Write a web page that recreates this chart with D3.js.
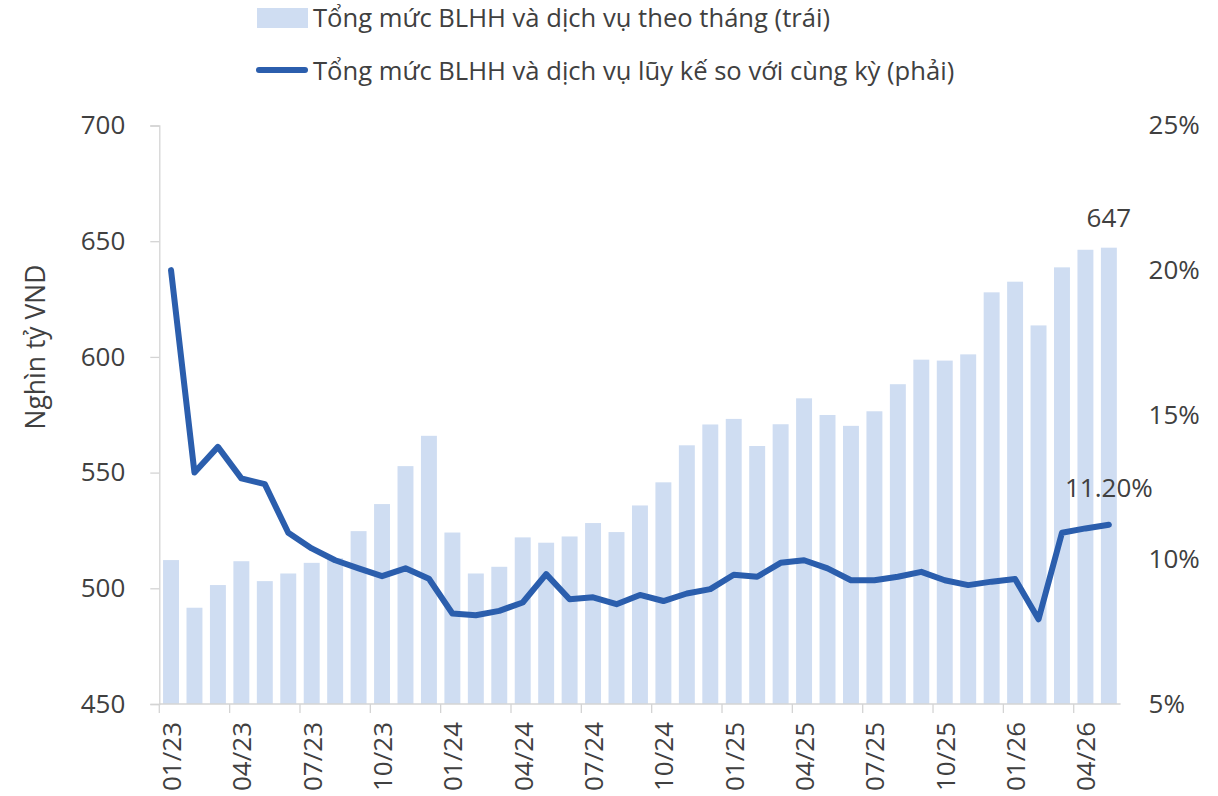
<!DOCTYPE html>
<html><head><meta charset="utf-8">
<script src="https://cdn.jsdelivr.net/npm/d3@7"></script>
<style>
body{margin:0;background:#fff}
svg{display:block}
text{font-family:"Open Sans",sans-serif;fill:#404040}
</style>
</head><body>
<svg id="chart" width="1218" height="796"></svg>
<script>
const months = ["01/23","02/23","03/23","04/23","05/23","06/23","07/23","08/23","09/23","10/23","11/23","12/23",
"01/24","02/24","03/24","04/24","05/24","06/24","07/24","08/24","09/24","10/24","11/24","12/24",
"01/25","02/25","03/25","04/25","05/25","06/25","07/25","08/25","09/25","10/25","11/25","12/25",
"01/26","02/26","03/26","04/26","05/26"];
const salesValues = [512.2,491.6,501.4,511.7,503.1,506.4,511.0,513.0,524.7,536.4,552.8,565.9,
524.1,506.4,509.3,522.0,519.7,522.4,528.2,524.3,535.8,545.8,561.8,570.8,
573.2,561.5,570.9,582.1,574.9,570.2,576.5,588.2,598.8,598.4,601.1,627.9,
632.5,613.6,638.7,646.3,647.2];
const growthValues = [20.0,13.0,13.89,12.8,12.6,10.92,10.38,9.97,9.69,9.42,9.69,9.33,
8.13,8.07,8.22,8.51,9.49,8.62,8.69,8.45,8.77,8.56,8.82,8.97,
9.47,9.40,9.88,9.97,9.69,9.28,9.28,9.40,9.57,9.28,9.11,9.23,
9.32,7.93,10.92,11.07,11.2];
const leftTicks = [450,500,550,600,650,700];
const rightTicks = [5,10,15,20,25];
const xTickLabels = ["01/23","04/23","07/23","10/23","01/24","04/24","07/24","10/24","01/25","04/25","07/25","10/25","01/26","04/26"];
const legendLabels = ["Tổng mức BLHH và dịch vụ theo tháng (trái)","Tổng mức BLHH và dịch vụ lũy kế so với cùng kỳ (phải)"];
const yTitle = "Nghìn tỷ VND";
const lastBarLabel = "647";
const lastLineLabel = "11.20%";

const barColor = "#cfddf2", lineColor = "#2b5ead", axisColor = "#d4d4d4";
const svg = d3.select("#chart");
const pL = 159.3, pR = 1120.6, pT = 125.5, pB = 704;

const x = d3.scaleBand(months, [pL, pR]).paddingInner(0.32).paddingOuter(0.16);
const yL = d3.scaleLinear([450, 700], [pB, pT]);
const yR = d3.scaleLinear([5, 25], [pB, pT]);
const step = x.step();
const cx = d => x(d) + x.bandwidth() / 2;

// bars
svg.append("g").selectAll("rect").data(months).join("rect")
  .attr("x", d => x(d)).attr("width", x.bandwidth())
  .attr("y", (d, i) => yL(salesValues[i]))
  .attr("height", (d, i) => pB - yL(salesValues[i]))
  .attr("fill", barColor);

// left axis
const gL = svg.append("g").attr("transform", `translate(${pL},0)`)
  .call(d3.axisLeft(yL).tickValues(leftTicks).tickSize(9).tickPadding(25).tickFormat(d3.format("d")));
gL.select(".domain").attr("stroke", axisColor).attr("stroke-width", 1.3);
gL.selectAll(".tick line").attr("stroke", axisColor).attr("stroke-width", 1.3);
gL.selectAll("text").style("font-size", "26px").attr("fill", "#404040");

// right axis
const gR = svg.append("g").attr("transform", `translate(${pR},0)`)
  .call(d3.axisRight(yR).tickValues(rightTicks).tickSize(0).tickPadding(28).tickFormat(d => d + "%"));
gR.select(".domain").remove();
gR.selectAll("text").style("font-size", "26px").attr("fill", "#404040");
svg.selectAll("g").attr("font-family", null);

// bottom axis
const gB = svg.append("g").attr("transform", `translate(0,${pB})`);
gB.append("line").attr("x1", pL).attr("x2", pR).attr("y1", 0).attr("y2", 0)
  .attr("stroke", axisColor).attr("stroke-width", 1.3);
gB.selectAll("line.tk").data(xTickLabels).join("line").attr("class", "tk")
  .attr("x1", d => x(d) - step * 0.16).attr("x2", d => x(d) - step * 0.16)
  .attr("y1", 0).attr("y2", 9).attr("stroke", axisColor).attr("stroke-width", 1.3);
gB.selectAll("text").data(xTickLabels).join("text")
  .attr("transform", d => `translate(${cx(d)},18) rotate(-90)`)
  .attr("text-anchor", "end").attr("dominant-baseline", "central")
  .style("font-size", "26px").text(d => d);

// line
const line = d3.line().x((d, i) => cx(months[i])).y(d => yR(d));
svg.append("path").datum(growthValues).attr("d", line)
  .attr("fill", "none").attr("stroke", lineColor).attr("stroke-width", 6)
  .attr("stroke-linejoin", "round").attr("stroke-linecap", "round");

// data labels
const lastM = months[months.length - 1];
svg.append("text").attr("x", cx(lastM)).attr("y", yL(salesValues[salesValues.length - 1]) - 21)
  .attr("text-anchor", "middle").style("font-size", "26px").text(lastBarLabel);
svg.append("text").attr("x", cx(lastM)).attr("y", yR(growthValues[growthValues.length - 1]) - 28)
  .attr("text-anchor", "middle").style("font-size", "26px").text(lastLineLabel);

// y title
svg.append("text").attr("transform", "translate(35,347) rotate(-90)")
  .attr("text-anchor", "middle").attr("dominant-baseline", "central")
  .style("font-size", "26.5px").text(yTitle);

// legend
const lg = svg.append("g");
lg.append("rect").attr("x", 257).attr("y", 8).attr("width", 51).attr("height", 20).attr("fill", barColor);
lg.append("text").attr("x", 313).attr("y", 17).attr("dominant-baseline", "central")
  .style("font-size", "25.6px").text(legendLabels[0]);
lg.append("line").attr("x1", 259).attr("x2", 305).attr("y1", 70).attr("y2", 70)
  .attr("stroke", lineColor).attr("stroke-width", 6).attr("stroke-linecap", "round");
lg.append("text").attr("x", 313).attr("y", 70).attr("dominant-baseline", "central")
  .style("font-size", "25.6px").text(legendLabels[1]);
</script>
</body></html>
